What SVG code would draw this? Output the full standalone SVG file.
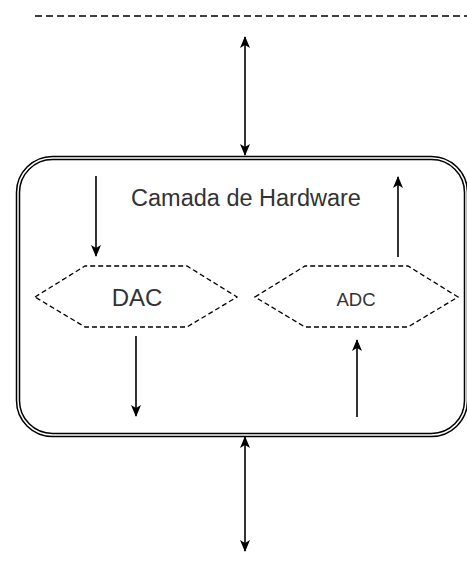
<svg xmlns="http://www.w3.org/2000/svg" width="467" height="572" viewBox="0 0 467 572">
  <style>
    .label { font-family: "Liberation Sans", Arial, sans-serif; fill: #333333; text-anchor: middle; dominant-baseline: central; }
    .hex { fill: none; stroke: #000000; stroke-width: 1.3; stroke-dasharray: 5 3; }
    .wire { fill: none; stroke: #000000; stroke-width: 1.6; }
  </style>
  <defs>
    <marker id="head" viewBox="0 0 12 10" refX="11" refY="5" markerWidth="12" markerHeight="11" markerUnits="userSpaceOnUse" orient="auto-start-reverse">
      <path d="M0,0 L12,5 L0,10 L3,5 Z" fill="#000000"/>
    </marker>
  </defs>
  <rect width="467" height="572" fill="#ffffff"/>

  <!-- boundary line -->
  <line x1="35" y1="16" x2="467" y2="16" stroke="#000000" stroke-width="1.5" stroke-dasharray="7 4"/>

  <!-- hardware layer container -->
  <g id="hardware-layer">
    <rect x="16.5" y="156.5" width="451" height="280" rx="36" ry="36" fill="#ffffff" stroke="#000000" stroke-width="1.5"/>
    <rect x="19.5" y="159.5" width="445" height="274" rx="33" ry="33" fill="none" stroke="#000000" stroke-width="1.5"/>
    <text class="label" x="246" y="198" font-size="23.5">Camada de Hardware</text>
  </g>

  <g id="dac">
    <polygon class="hex" points="35,297 85,266 187,266 237,297 187,327 85,327"/>
    <text class="label" x="137" y="297" font-size="24">DAC</text>
  </g>

  <g id="adc">
    <polygon class="hex" points="255,297 305,266 408,266 458,297 408,327 305,327"/>
    <text class="label" x="356" y="299" font-size="18.5">ADC</text>
  </g>

  <g id="connectors">
    <line class="wire" x1="245" y1="37" x2="245" y2="155" marker-start="url(#head)" marker-end="url(#head)"/>
    <line class="wire" x1="245" y1="437" x2="245" y2="551" marker-start="url(#head)" marker-end="url(#head)"/>
    <line class="wire" x1="96" y1="176" x2="96" y2="256" marker-end="url(#head)"/>
    <line class="wire" x1="398" y1="257" x2="398" y2="177" marker-end="url(#head)"/>
    <line class="wire" x1="136" y1="336" x2="136" y2="416" marker-end="url(#head)"/>
    <line class="wire" x1="357" y1="417" x2="357" y2="340" marker-end="url(#head)"/>
  </g>
</svg>
